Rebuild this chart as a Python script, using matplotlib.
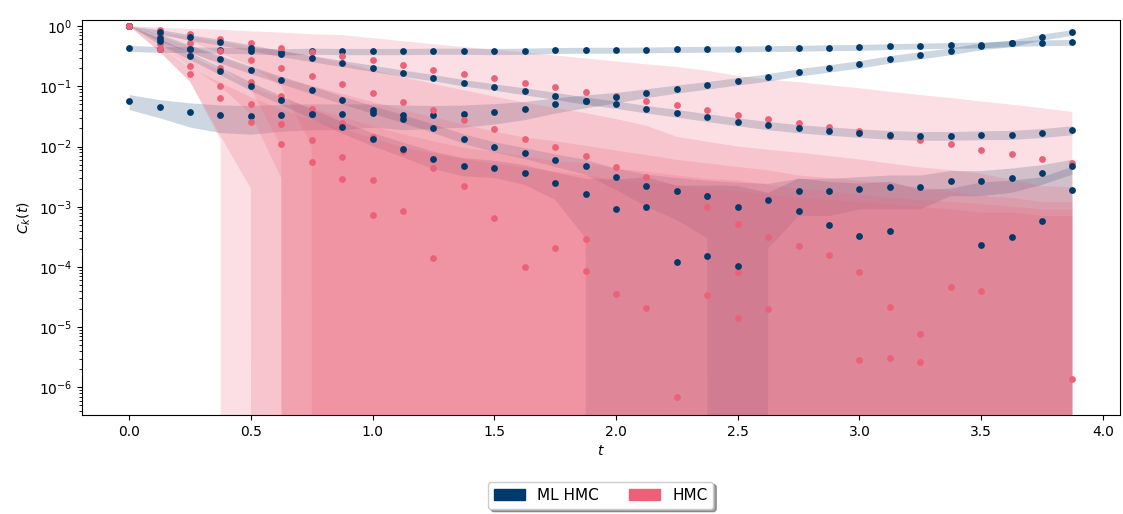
import numpy as np
import matplotlib
matplotlib.use("Agg")
import matplotlib.pyplot as plt
from matplotlib.patches import Patch

# 时间网格
t = np.arange(0, 4.0, 0.125)

# ---------- ML HMC 数据 (均值, 误差) ----------
ml_a = [0.43, 0.41, 0.41, 0.40, 0.39, 0.375, 0.385, 0.38, 0.38, 0.38, 0.385, 0.385, 0.38, 0.385, 0.395, 0.40,
        0.40, 0.405, 0.41, 0.415, 0.42, 0.425, 0.43, 0.44, 0.445, 0.46, 0.47, 0.48, 0.49, 0.515, 0.53, 0.54]
ml_a_err = [0.05, 0.045, 0.045, 0.045, 0.045, 0.045, 0.045, 0.045, 0.045, 0.045, 0.045, 0.045, 0.045, 0.045, 0.045, 0.045,
            0.045, 0.045, 0.046, 0.046, 0.047, 0.047, 0.048, 0.049, 0.05, 0.051, 0.052, 0.053, 0.054, 0.056, 0.058, 0.06]

ml_b = [0.057, 0.045, 0.037, 0.033, 0.032, 0.034, 0.035, 0.035, 0.036, 0.034, 0.034, 0.035, 0.0376, 0.042, 0.05, 0.058,
        0.066, 0.078, 0.091, 0.105, 0.122, 0.142, 0.172, 0.200, 0.234, 0.283, 0.330, 0.384, 0.466, 0.52, 0.66, 0.79]
ml_b_err = [0.016, 0.015, 0.016, 0.016, 0.016, 0.016, 0.016, 0.016, 0.015, 0.015, 0.014, 0.014, 0.014, 0.014, 0.014, 0.014,
            0.013, 0.013, 0.014, 0.015, 0.017, 0.02, 0.024, 0.028, 0.033, 0.04, 0.045, 0.05, 0.06, 0.065, 0.075, 0.085]

ml_c = [1.0, 0.80, 0.65, 0.54, 0.44, 0.35, 0.29, 0.24, 0.20, 0.166, 0.14, 0.115, 0.098, 0.083, 0.07, 0.058,
        0.05, 0.042, 0.036, 0.0305, 0.026, 0.0225, 0.020, 0.0183, 0.0169, 0.0158, 0.0152, 0.0152, 0.0156, 0.0158, 0.017, 0.0189]
ml_c_err = [0.0, 0.08, 0.07, 0.06, 0.05, 0.04, 0.034, 0.028, 0.024, 0.02, 0.017, 0.014, 0.012, 0.011, 0.0095, 0.008,
            0.007, 0.006, 0.0052, 0.0045, 0.0039, 0.0035, 0.0031, 0.0029, 0.0027, 0.0026, 0.0025, 0.0025, 0.0026, 0.0027, 0.0029, 0.0032]

ml_d = [1.0, 0.64, 0.42, 0.28, 0.186, 0.127, 0.087, 0.059, 0.041, 0.029, 0.020, 0.0135, 0.0099, 0.0078, 0.006, 0.0047,
        0.0031, 0.0022, 0.0018, 0.0015, 0.001, 0.0013, 0.0018, 0.0018, 0.002, 0.0021, 0.0021, 0.0027, 0.0027, 0.003, 0.0036, 0.0047]
ml_d_err = [0.0, 0.09, 0.06, 0.04, 0.027, 0.018, 0.013, 0.009, 0.006, 0.0045, 0.0032, 0.0024, 0.0019, 0.0016, 0.0014, 0.0013,
            0.0012, 0.0012, 0.0012, 0.0012, 0.0015, 0.0011, 0.0011, 0.0011, 0.0011, 0.0012, 0.0012, 0.0012, 0.0012, 0.0013, 0.0013, 0.0013]

ml_e = [1.0, 0.56, 0.32, 0.18, 0.10, 0.059, 0.035, 0.021, 0.0134, 0.0091, 0.0062, 0.0048, 0.0044, 0.0036, 0.0025, 0.0016,
        0.00091, 0.001, 0.00012, 0.00015, 0.000105, -0.0004, 0.00084, 0.00049, 0.00033, 0.0004, -0.0003, -0.0002, 0.00023, 0.00031, 0.00058, 0.0019]
ml_e_err = [0.0, 0.07, 0.045, 0.027, 0.016, 0.01, 0.0065, 0.0045, 0.0033, 0.0025, 0.002, 0.0016, 0.0014, 0.0013, 0.0012, 0.0013,
            0.0019, 0.0021, 0.0021, 0.0021, 0.0021, 0.0021, 0.0021, 0.0021, 0.0021, 0.0022, 0.0022, 0.0022, 0.0023, 0.0024, 0.0025, 0.0027]

# ---------- HMC 数据 (均值, 误差) ----------
hmc_1 = [1.0, 0.86, 0.73, 0.61, 0.52, 0.44, 0.37, 0.32, 0.27, 0.23, 0.19, 0.16, 0.135, 0.115, 0.096, 0.08,
         0.069, 0.057, 0.049, 0.041, 0.034, 0.029, 0.025, 0.021, 0.0178, 0.0151, 0.0128, 0.0108, 0.0089, 0.0075, 0.0063, 0.0054]
hmc_1_err = [0.0, 0.08, 0.17, 0.26, 0.30, 0.34, 0.36, 0.39, 0.36, 0.33, 0.31, 0.29, 0.27, 0.25, 0.23, 0.21,
             0.19, 0.175, 0.16, 0.14, 0.115, 0.10, 0.092, 0.083, 0.075, 0.066, 0.059, 0.053, 0.047, 0.042, 0.037, 0.032]

hmc_2 = [1.0, 0.72, 0.52, 0.385, 0.27, 0.2, 0.148, 0.108, 0.077, 0.055, 0.04, 0.028, 0.0195, 0.0134, 0.0097, 0.0069,
         0.0046, 0.0031, 0.0018, 0.001, 0.00051, 0.00031, 0.00022, 0.00016, 8.1e-5, 2.2e-5, 7.6e-6, 4.6e-5, 4.0e-5, -0.0002, -0.0003, 1.4e-6]
hmc_2_err = [0.0, 0.08, 0.14, 0.17, 0.18, 0.19, 0.17, 0.14, 0.11, 0.087, 0.07, 0.058, 0.048, 0.04, 0.034, 0.029,
             0.024, 0.019, 0.0127, 0.011, 0.0095, 0.0085, 0.0077, 0.0068, 0.006, 0.0052, 0.0045, 0.004, 0.0035, 0.003, 0.0025, 0.0021]

hmc_3 = [1.0, 0.58, 0.33, 0.2, 0.119, 0.069, 0.042, 0.025, 0.0146, 0.0085, 0.0044, 0.0022, 0.00065, 0.0001, 0.00021, 0.00029,
         3.6e-5, 2.1e-5, 7e-7, 3.4e-5, 8.2e-5, 2.0e-5, -0.0002, -0.0001, 2.8e-6, 3.1e-6, 2.6e-6, -0.0001, -0.0002, -0.0001, -0.0002, -0.0001]
hmc_3_err = [0.0, 0.1, 0.12, 0.1, 0.085, 0.066, 0.06, 0.05, 0.04, 0.032, 0.026, 0.021, 0.017, 0.014, 0.012, 0.01,
             0.0085, 0.0072, 0.006, 0.0052, 0.0045, 0.004, 0.0035, 0.0031, 0.0027, 0.0024, 0.0021, 0.0019, 0.0017, 0.0015, 0.0014, 0.0013]

hmc_4 = [1.0, 0.5, 0.22, 0.1, 0.05, 0.024, 0.0128, 0.0067, 0.0028, 0.00085, 0.00014, -0.0005, -0.0004, -0.0003, -0.0003, 8.6e-5,
         -0.0002, -0.0002, -0.0002, -0.0001, 1.4e-5, -0.0001, -0.0001, -0.0001, -0.0001, -0.0001, -0.0001, -0.0001, -0.0001, -0.0001, -0.0001, -0.0001]
hmc_4_err = [0.0, 0.12, 0.1, 0.085, 0.048, 0.04, 0.03, 0.024, 0.019, 0.015, 0.012, 0.01, 0.0085, 0.0072, 0.006, 0.0052,
             0.0045, 0.004, 0.0035, 0.003, 0.0027, 0.0024, 0.0021, 0.0019, 0.0017, 0.0015, 0.0014, 0.0013, 0.0012, 0.0011, 0.001, 0.001]

hmc_5 = [1.0, 0.42, 0.16, 0.064, 0.026, 0.011, 0.0055, 0.0029, 0.00072, -0.0004, -0.0003, -0.0003, -0.0003, -0.0002, -0.0002, -0.0002,
         -0.0002, -0.0002, -0.0001, -0.0001, -0.0001, -0.0001, -0.0001, -0.0001, -0.0001, -0.0001, -0.0001, -0.0001, -0.0001, -0.0001, -0.0001, -0.0001]
hmc_5_err = [0.0, 0.05, 0.04, 0.051, 0.04, 0.03, 0.022, 0.017, 0.013, 0.01, 0.008, 0.0065, 0.0055, 0.0047, 0.004, 0.0035,
             0.003, 0.0027, 0.0024, 0.0021, 0.0019, 0.0017, 0.0015, 0.0014, 0.0013, 0.0012, 0.0011, 0.001, 0.0009, 0.0009, 0.0008, 0.0008]

ml_series = [(ml_a, ml_a_err), (ml_b, ml_b_err), (ml_c, ml_c_err), (ml_d, ml_d_err), (ml_e, ml_e_err)]
hmc_series = [(hmc_1, hmc_1_err), (hmc_2, hmc_2_err), (hmc_3, hmc_3_err), (hmc_4, hmc_4_err), (hmc_5, hmc_5_err)]

# 颜色
ml_color = '#003a6b'
hmc_color = '#eb6178'

fig = plt.figure(figsize=(11.23, 5.14), dpi=100)
ax = fig.add_axes([0.073, 0.193, 0.924, 0.768])
ax.set_yscale('log')

# 先画 ML HMC 误差带, 再画 HMC 误差带
for mean, err in ml_series:
    mean, err = np.asarray(mean), np.asarray(err)
    ax.fill_between(t, mean - err, mean + err, color=ml_color, alpha=0.2, linewidth=0, zorder=1)
for mean, err in hmc_series:
    mean, err = np.asarray(mean), np.asarray(err)
    ax.fill_between(t, mean - err, mean + err, color=hmc_color, alpha=0.2, linewidth=0, zorder=1.5)

# 数据点
for (m1, _), (m2, _) in zip(ml_series, hmc_series):
    for mean, color in ((m1, ml_color), (m2, hmc_color)):
        mean = np.asarray(mean)
        ax.scatter(t, np.where(mean > 0, mean, np.nan), s=24, color=color, zorder=3, linewidths=0)

ax.set_xlim(-0.194, 4.069)
ax.set_ylim(3.5e-7, 1.26)
ax.set_xlabel('$t$')
ax.set_ylabel('$C_k(t)$')

# 图例放在坐标轴下方
handles = [Patch(color=ml_color, label='ML HMC'), Patch(color=hmc_color, label='HMC')]
ax.legend(handles=handles, loc='upper center', bbox_to_anchor=(0.5, -0.15), ncol=2,
          shadow=True, fontsize=11)

plt.savefig('out.png', dpi=100)
